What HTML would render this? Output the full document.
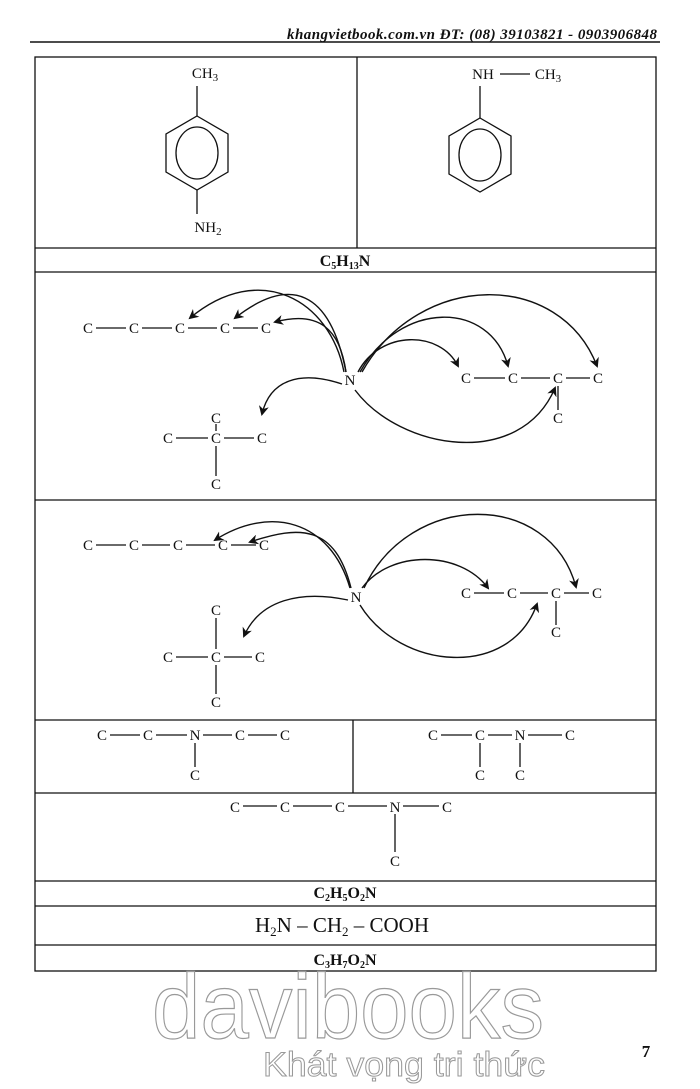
<!DOCTYPE html>
<html><head><meta charset="utf-8"><style>
html,body{margin:0;padding:0;background:#fff}
svg{display:block}
text{font-family:"Liberation Serif",serif;fill:#111}
.c{font-size:15px;text-anchor:middle}
.b{font-weight:bold;font-size:16px;text-anchor:middle}
</style></head><body>
<svg width="700" height="1089" viewBox="0 0 700 1089" xmlns="http://www.w3.org/2000/svg">
<defs><marker id="a" markerWidth="10" markerHeight="10" refX="8" refY="5" orient="auto" markerUnits="userSpaceOnUse"><path d="M0,0 L10,5 L0,10 L3,5 Z" fill="#111"/></marker></defs>
<text x="657" y="39" text-anchor="end" textLength="370" style="font-style:italic;font-weight:bold;font-size:15px">khangvietbook.com.vn  ĐT: (08) 39103821 - 0903906848</text>
<line x1="30" y1="42" x2="660" y2="42" stroke="#111" stroke-width="1.5"/>
<g stroke="#111" stroke-width="1.3" fill="none">
<rect x="35" y="57" width="621" height="914"/>
<line x1="35" y1="248" x2="656" y2="248"/><line x1="35" y1="272" x2="656" y2="272"/>
<line x1="35" y1="500" x2="656" y2="500"/><line x1="35" y1="720" x2="656" y2="720"/>
<line x1="35" y1="793" x2="656" y2="793"/><line x1="35" y1="881" x2="656" y2="881"/>
<line x1="35" y1="906" x2="656" y2="906"/><line x1="35" y1="945" x2="656" y2="945"/>
<line x1="357" y1="57" x2="357" y2="248"/><line x1="353" y1="720" x2="353" y2="793"/>
<line x1="197" y1="86" x2="197" y2="116"/>
<polygon points="197,116 228,134 228,172 197,190 166,172 166,134"/>
<ellipse cx="197" cy="153" rx="21" ry="26"/>
<line x1="197" y1="190" x2="197" y2="214"/>
<line x1="500" y1="74" x2="530" y2="74"/>
<line x1="480" y1="86" x2="480" y2="118"/>
<polygon points="480,118 511,136 511,174 480,192 449,174 449,136"/>
<ellipse cx="480" cy="155" rx="21" ry="26"/>
<path d="M96,328H126M142,328H172M188,328H217M233,328H258M474,378H505M521,378H550M566,378H590M558,386V410M176,438H208M224,438H254M216,424V431M216,446V476"/>
<path d="M96,545H126M142,545H170M186,545H215M231,545H256M474,593H504M520,593H548M564,593H589M556,601V625M176,657H208M224,657H252M216,618V649M216,665V694"/>
<path d="M110,735H140M156,735H187M203,735H232M248,735H277M195,743V767M441,735H472M488,735H512M528,735H562M480,743V767M520,743V767"/>
<path d="M243,806H277M293,806H332M348,806H387M403,806H439M395,814V852"/>
</g>
<g stroke="#111" stroke-width="1.4" fill="none" marker-end="url(#a)">
<path d="M344,372 C330,300 260,260 190,318"/>
<path d="M346,372 C330,290 290,275 235,318"/>
<path d="M346,372 C340,330 320,310 275,322"/>
<path d="M342,384 C300,370 270,380 262,414"/>
<path d="M358,372 C380,330 440,330 458,366"/>
<path d="M360,372 C400,300 490,300 508,366"/>
<path d="M362,372 C420,270 560,270 597,366"/>
<path d="M355,390 C400,450 520,470 555,388"/>
<path d="M350,588 C330,520 270,505 215,540"/>
<path d="M351,588 C335,525 300,525 250,542"/>
<path d="M348,600 C300,590 260,600 244,636"/>
<path d="M362,588 C390,550 460,550 488,588"/>
<path d="M364,588 C410,490 550,490 576,587"/>
<path d="M360,605 C400,670 510,680 537,604"/>
</g>
<text class="c" x="205" y="78">CH<tspan font-size="11" dy="3">3</tspan></text>
<text class="c" x="208" y="232">NH<tspan font-size="11" dy="3">2</tspan></text>
<text class="c" x="483" y="79">NH</text>
<text class="c" x="548" y="79">CH<tspan font-size="11" dy="3">3</tspan></text>
<text class="b" x="345" y="266">C<tspan font-size="10" dy="3">5</tspan><tspan dy="-3">H</tspan><tspan font-size="10" dy="3">13</tspan><tspan dy="-3">N</tspan></text>
<g>
<text class="c" x="88" y="333">C</text><text class="c" x="134" y="333">C</text><text class="c" x="180" y="333">C</text><text class="c" x="225" y="333">C</text><text class="c" x="266" y="333">C</text>
<text class="c" x="350" y="385">N</text>
<text class="c" x="466" y="383">C</text><text class="c" x="513" y="383">C</text><text class="c" x="558" y="383">C</text><text class="c" x="598" y="383">C</text><text class="c" x="558" y="423">C</text>
<text class="c" x="216" y="423">C</text><text class="c" x="168" y="443">C</text><text class="c" x="216" y="443">C</text><text class="c" x="262" y="443">C</text><text class="c" x="216" y="489">C</text>
<text class="c" x="88" y="550">C</text><text class="c" x="134" y="550">C</text><text class="c" x="178" y="550">C</text><text class="c" x="223" y="550">C</text><text class="c" x="264" y="550">C</text>
<text class="c" x="356" y="602">N</text>
<text class="c" x="466" y="598">C</text><text class="c" x="512" y="598">C</text><text class="c" x="556" y="598">C</text><text class="c" x="597" y="598">C</text><text class="c" x="556" y="637">C</text>
<text class="c" x="216" y="615">C</text><text class="c" x="168" y="662">C</text><text class="c" x="216" y="662">C</text><text class="c" x="260" y="662">C</text><text class="c" x="216" y="707">C</text>
<text class="c" x="102" y="740">C</text><text class="c" x="148" y="740">C</text><text class="c" x="195" y="740">N</text><text class="c" x="240" y="740">C</text><text class="c" x="285" y="740">C</text><text class="c" x="195" y="780">C</text>
<text class="c" x="433" y="740">C</text><text class="c" x="480" y="740">C</text><text class="c" x="520" y="740">N</text><text class="c" x="570" y="740">C</text><text class="c" x="480" y="780">C</text><text class="c" x="520" y="780">C</text>
<text class="c" x="235" y="812">C</text><text class="c" x="285" y="812">C</text><text class="c" x="340" y="812">C</text><text class="c" x="395" y="812">N</text><text class="c" x="447" y="812">C</text><text class="c" x="395" y="866">C</text>
</g>
<text class="b" x="345" y="898">C<tspan font-size="10" dy="3">2</tspan><tspan dy="-3">H</tspan><tspan font-size="10" dy="3">5</tspan><tspan dy="-3">O</tspan><tspan font-size="10" dy="3">2</tspan><tspan dy="-3">N</tspan></text>
<text x="342" y="932" style="font-size:21px;text-anchor:middle">H<tspan font-size="13" dy="4">2</tspan><tspan dy="-4">N – CH</tspan><tspan font-size="13" dy="4">2</tspan><tspan dy="-4"> – COOH</tspan></text>
<text class="b" x="345" y="965">C<tspan font-size="10" dy="3">3</tspan><tspan dy="-3">H</tspan><tspan font-size="10" dy="3">7</tspan><tspan dy="-3">O</tspan><tspan font-size="10" dy="3">2</tspan><tspan dy="-3">N</tspan></text>
<text x="152" y="1038" textLength="392" lengthAdjust="spacingAndGlyphs" style="font-family:'Liberation Sans',sans-serif;font-size:92px;fill:none;stroke:#999;stroke-width:1.2">davibooks</text>
<text x="263" y="1076" textLength="282" lengthAdjust="spacingAndGlyphs" style="font-family:'Liberation Sans',sans-serif;font-size:34px;fill:none;stroke:#999;stroke-width:1">Khát vọng tri thức</text>
<text x="646" y="1057" style="font-weight:bold;font-size:17px;text-anchor:middle">7</text>
</svg>
</body></html>
